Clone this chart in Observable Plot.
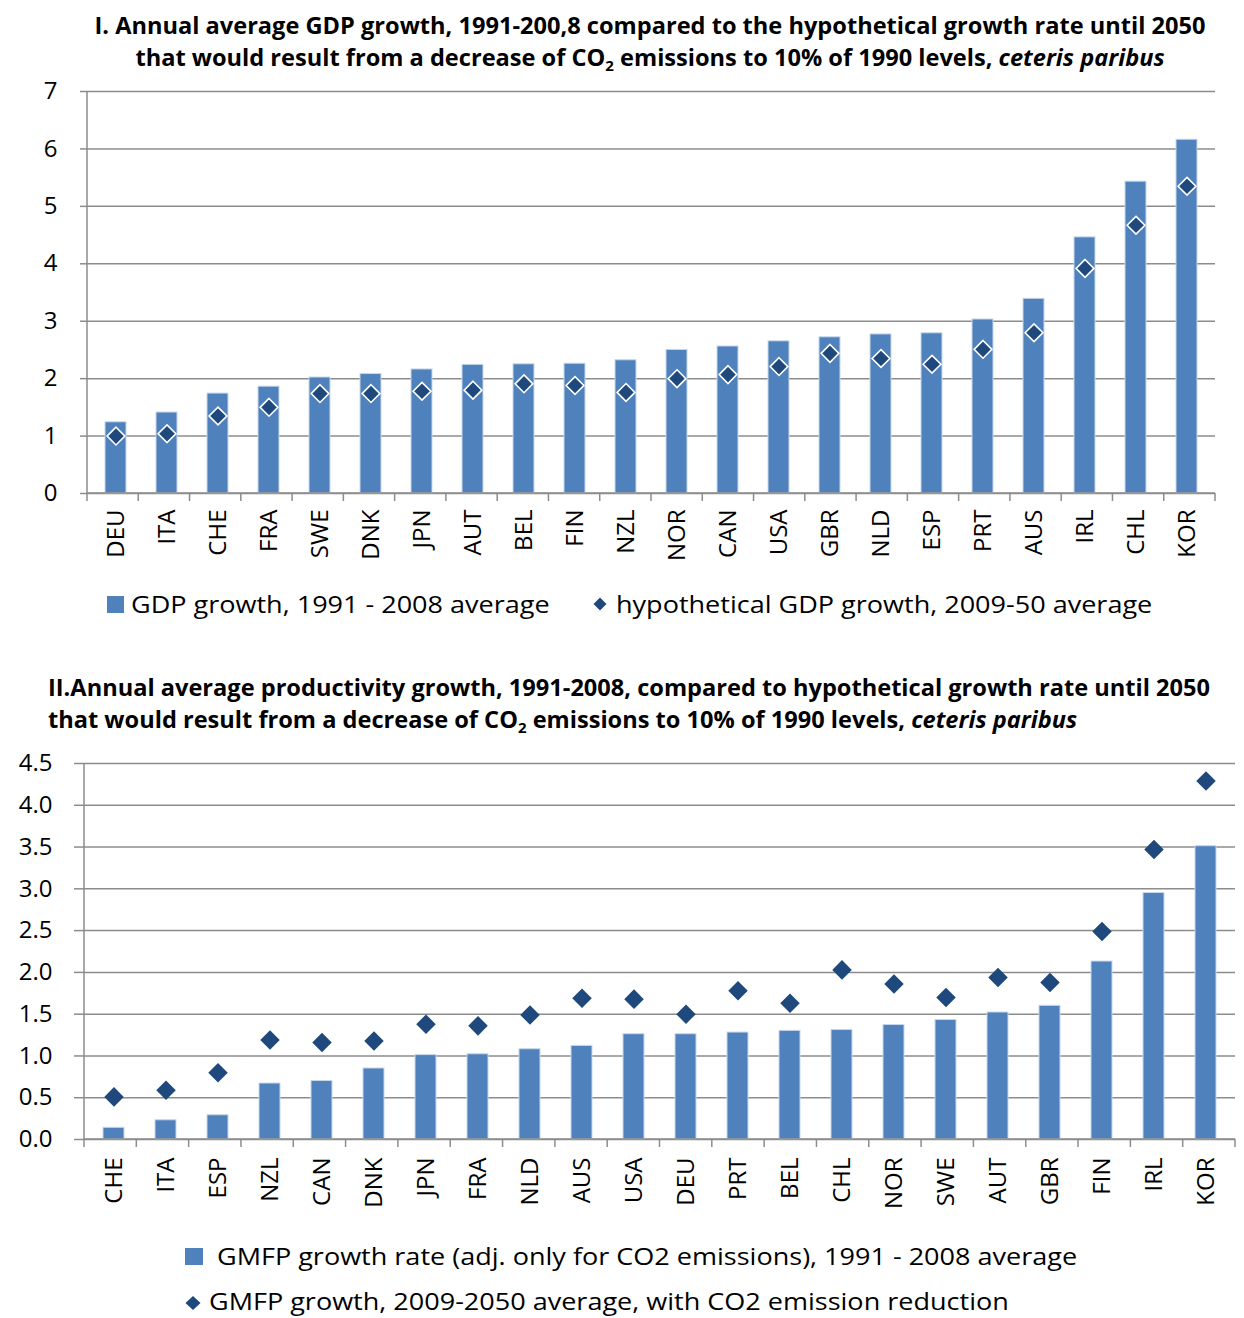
<!DOCTYPE html>
<html>
<head>
<meta charset="utf-8">
<script src="https://cdn.jsdelivr.net/npm/d3@7"></script>
<script src="https://cdn.jsdelivr.net/npm/@observablehq/plot@0.6"></script>
<style>
  body { margin: 0; background: #fff; font-family: "Open Sans", sans-serif; color: #000; }
  #wrap { position: relative; width: 1244px; height: 1318px; overflow: hidden; }
  .abs { position: absolute; white-space: nowrap; }
  .title { font-weight: bold; font-size: 23.6px; line-height: 32px; }
  .title sub { font-size: 15px; line-height: 0; vertical-align: -5px; }
  .leg { font-size: 23.5px; line-height: 26px; transform: scaleX(1.15); transform-origin: 0 50%; }
  .sq { position: absolute; background: #4F81BD; }
  svg { overflow: visible; }
</style>
</head>
<body>
<div id="wrap">
  <div class="abs title" style="left:28px; top:9px; width:1244px; text-align:center;">I. Annual average GDP growth, 1991-200,8 compared to the hypothetical growth rate until 2050<br>that would result from a decrease of CO<sub>2</sub> emissions to 10% of 1990 levels, <i>ceteris paribus</i></div>
  <div id="c1" class="abs" style="left:0; top:80px;"></div>
  <div class="sq" style="left:107px; top:596px; width:17px; height:17px;"></div>
  <div class="abs leg" style="left:131px; top:591px;">GDP growth, 1991 - 2008 average</div>
  <svg class="abs" style="left:592px; top:596px;" width="16" height="16"><path d="M8,1.5L14.5,8L8,14.5L1.5,8Z" fill="#1F497D"/></svg>
  <div class="abs leg" style="left:616px; top:591px;">hypothetical GDP growth, 2009-50 average</div>

  <div class="abs title" style="left:48px; top:671px;">II.Annual average productivity growth, 1991-2008, compared to hypothetical growth rate until 2050<br>that would result from a decrease of CO<sub>2</sub> emissions to 10% of 1990 levels, <i>ceteris paribus</i></div>
  <div id="c2" class="abs" style="left:0; top:745px;"></div>
  <div class="sq" style="left:185px; top:1248px; width:18px; height:17px;"></div>
  <div class="abs leg" style="left:217px; top:1243px;">GMFP growth rate (adj. only for CO2 emissions), 1991 - 2008 average</div>
  <svg class="abs" style="left:184px; top:1295px;" width="18" height="16"><path d="M9,1L16.5,8L9,15L1.5,8Z" fill="#1F497D"/></svg>
  <div class="abs leg" style="left:209px; top:1288px;">GMFP growth, 2009-2050 average, with CO2 emission reduction</div>
</div>
<script>
// ---- Chart I data ----
const cats1 = ["DEU","ITA","CHE","FRA","SWE","DNK","JPN","AUT","BEL","FIN","NZL","NOR","CAN","USA","GBR","NLD","ESP","PRT","AUS","IRL","CHL","KOR"];
const gdpGrowth = [1.24,1.41,1.74,1.86,2.02,2.08,2.16,2.24,2.25,2.26,2.32,2.50,2.56,2.65,2.72,2.77,2.79,3.03,3.39,4.46,5.43,6.16];
const hypGdpGrowth = [1.00,1.04,1.35,1.50,1.74,1.74,1.78,1.80,1.91,1.88,1.76,2.00,2.07,2.21,2.44,2.35,2.25,2.51,2.80,3.92,4.67,5.35];
const yTicks1 = [0,1,2,3,4,5,6,7];

// ---- Chart II data ----
const cats2 = ["CHE","ITA","ESP","NZL","CAN","DNK","JPN","FRA","NLD","AUS","USA","DEU","PRT","BEL","CHL","NOR","SWE","AUT","GBR","FIN","IRL","KOR"];
const gmfpGrowth = [0.14,0.23,0.29,0.67,0.70,0.85,1.01,1.02,1.08,1.12,1.26,1.26,1.28,1.30,1.31,1.37,1.43,1.52,1.60,2.13,2.95,3.51];
const gmfpHyp = [0.51,0.59,0.80,1.19,1.16,1.18,1.38,1.36,1.49,1.69,1.68,1.50,1.78,1.63,2.03,1.86,1.70,1.94,1.88,2.49,3.47,4.29];
const yTicks2 = [0,0.5,1,1.5,2,2.5,3,3.5,4,4.5];

const GRID = "#8c8c8c";

function makeChart(cats, bars, dots, yTicks, cfg) {
  const data = cats.map((c, i) => ({c, bar: bars[i], dot: dots[i]}));
  const yMax = yTicks[yTicks.length - 1];
  const svg = Plot.plot({
    width: 1244,
    height: cfg.height,
    marginLeft: cfg.ml, marginRight: cfg.mr, marginTop: cfg.mt, marginBottom: cfg.mb,
    style: {fontFamily: "Open Sans, sans-serif", fontSize: "24px", color: "#000", background: "transparent", overflow: "visible"},
    x: {domain: cats, paddingInner: cfg.pad, paddingOuter: cfg.pad / 2, label: null},
    y: {domain: [0, yMax], label: null},
    marks: [
      Plot.gridY(yTicks, {stroke: GRID, strokeOpacity: 1, strokeWidth: 1.5}),
      Plot.axisY({ticks: yTicks, tickSize: cfg.tickY, tickPadding: cfg.padY, stroke: GRID, strokeWidth: 1.5,
                  tickFormat: cfg.fmt, fontSize: 24, label: null}),
      Plot.axisX({tickSize: 0, tickRotate: -90, tickPadding: cfg.padX, fontSize: 24, label: null}),
      Plot.barY(data, {x: "c", y: "bar", fill: "#4F81BD", stroke: "#c8d7ea", strokeWidth: 1}),
      Plot.dot(data, {x: "c", y: "dot", symbol: "diamond2", r: cfg.r, fill: "#1F497D",
                      stroke: cfg.dotStroke, strokeWidth: cfg.dotStroke === "none" ? 0 : 1.6})
    ]
  });
  // axis lines and between-category ticks derived from scales
  const xs = svg.scale("x"), ys = svg.scale("y");
  const [r0, r1] = xs.range;
  const step = (r1 - r0) / cats.length;
  const y0 = ys.apply(0), yTop = ys.apply(yMax);
  const g = d3.select(svg).append("g").attr("stroke", GRID).attr("stroke-width", 1.5).attr("fill", "none");
  g.append("line").attr("x1", r0).attr("x2", r0).attr("y1", yTop).attr("y2", y0);
  g.append("line").attr("x1", r0).attr("x2", r1).attr("y1", y0).attr("y2", y0);
  d3.range(cats.length + 1).forEach(k => {
    const xx = r0 + k * step;
    g.append("line").attr("x1", xx).attr("x2", xx).attr("y1", y0).attr("y2", y0 + 8);
  });
  return svg;
}

document.getElementById("c1").appendChild(makeChart(cats1, gdpGrowth, hypGdpGrowth, yTicks1, {
  height: 500, ml: 87, mr: 29, mt: 11, mb: 87, pad: 0.59, tickY: 7, padY: 23, padX: 16,
  fmt: d3.format("d"), r: 8, dotStroke: "white"
}));
document.getElementById("c2").appendChild(makeChart(cats2, gmfpGrowth, gmfpHyp, yTicks2, {
  height: 485, ml: 84, mr: 9, mt: 18, mb: 91, pad: 0.6, tickY: 10, padY: 22, padX: 18,
  fmt: d3.format(".1f"), r: 8.8, dotStroke: "none"
}));
</script>
</body>
</html>
